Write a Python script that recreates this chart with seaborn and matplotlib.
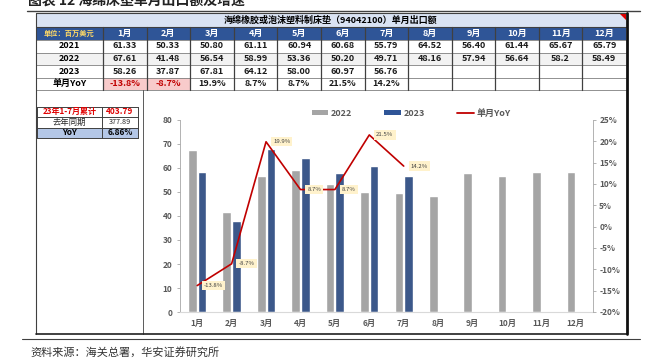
import matplotlib
matplotlib.use("Agg")
import matplotlib.pyplot as plt
import numpy as np
import pandas as pd
import seaborn as sns
from matplotlib.patches import Rectangle, Patch, Polygon
from matplotlib.lines import Line2D

# datos
meses = ['1月', '2月', '3月', '4月', '5月', '6月', '7月', '8月', '9月', '10月', '11月', '12月']
txt_2021 = ['61.33', '50.33', '50.80', '61.11', '60.94', '60.68', '55.79', '64.52', '56.40', '61.44', '65.67', '65.79']
txt_2022 = ['67.61', '41.48', '56.54', '58.99', '53.36', '50.20', '49.71', '48.16', '57.94', '56.64', '58.2', '58.49']
txt_2023 = ['58.26', '37.87', '67.81', '64.12', '58.00', '60.97', '56.76']
yoy = [-13.8, -8.7, 19.9, 8.7, 8.7, 21.5, 14.2]
anios = ['2022', '2023']

titulo_tabla = '海绵橡胶或泡沫塑料制床垫（94042100）单月出口额'
unidad = '单位：百万美元'
acum_etiquetas = ['23年1-7月累计', '去年同期', 'YoY']
acum_valores = ['403.79', '377.89', '6.86%']
titulo = '图表 12 海绵床垫单月出口额及增速'
fuente = '资料来源：海关总署，华安证券研究所'

GRIS = '#A5A5A5'
AZUL = '#2F5597'
ROJO = '#C00000'
TXT = '#595959'

sns.set_style('white')
plt.rcParams['font.family'] = ['Noto Sans CJK SC', 'DejaVu Sans']

W, H = 648, 364
fig = plt.figure(figsize=(W / 100, H / 100), dpi=100)

# capa de fondo en pixeles para tablas y marcos
bg = fig.add_axes([0, 0, 1, 1])
bg.set_xlim(0, W)
bg.set_ylim(H, 0)
bg.axis('off')


def celda(x0, y0, x1, y1, fc='white', ec='none', lw=0):
    bg.add_patch(Rectangle((x0, y0), x1 - x0, y1 - y0, fc=fc, ec=ec, lw=lw))


def texto(x, y, s, size=6.5, color='black', weight='bold', ha='center'):
    bg.text(x, y, s, fontsize=size, color=color, fontweight=weight, ha=ha, va='center')


# titulo cortado arriba (como en la imagen original)
bg.text(28, 8, titulo, fontsize=10, fontweight='bold', ha='left', va='bottom', color='#222222')
bg.plot([27, 640], [11, 11], color='#404040', lw=1)

# tabla superior
x_lab0, x_lab1 = 36, 103
col_w = (626 - 103) / 12
filas_y = [13, 26.5, 39.5, 52.5, 65, 77.5, 90]

celda(36, filas_y[0], 626, filas_y[1], fc='#DAE3F3')
texto(331, (filas_y[0] + filas_y[1]) / 2, titulo_tabla, size=6.5)
bg.add_patch(Polygon([[619, 13], [626, 13], [626, 20]], closed=True, fc='#E00000', ec='none'))

celda(36, filas_y[1], 626, filas_y[2], fc=AZUL)
celda(36, filas_y[3], 626, filas_y[4], fc='#F2F2F2')
texto((x_lab0 + x_lab1) / 2, (filas_y[1] + filas_y[2]) / 2, unidad, size=5.2, color='#FFD966')

filas = [('2021', txt_2021), ('2022', txt_2022), ('2023', txt_2023)]
yoy_txt = [f'{v}%' for v in yoy]
for i, m in enumerate(meses):
    cx = 103 + col_w * (i + 0.5)
    texto(cx, (filas_y[1] + filas_y[2]) / 2, m, color='white')
    for j, (nombre, vals) in enumerate(filas):
        yc = (filas_y[2 + j] + filas_y[3 + j]) / 2
        if i < len(vals):
            texto(cx, yc, vals[i], color='#1a1a1a')
    if i < len(yoy):
        if yoy[i] < 0:
            celda(103 + col_w * i, filas_y[5], 103 + col_w * (i + 1), filas_y[6], fc='#F8CBCB')
            color = ROJO
        else:
            color = '#1a1a1a'
        texto(cx, (filas_y[5] + filas_y[6]) / 2, yoy_txt[i], color=color)

for j, (nombre, vals) in enumerate(filas):
    texto((x_lab0 + x_lab1) / 2, (filas_y[2 + j] + filas_y[3 + j]) / 2, nombre)
texto((x_lab0 + x_lab1) / 2, (filas_y[5] + filas_y[6]) / 2, '单月YoY')

# lineas de la tabla
for y in filas_y[2:]:
    bg.plot([36, 626], [y, y], color='#7F7F7F', lw=0.6)
bg.plot([36, 626], [filas_y[0], filas_y[0]], color='#404040', lw=0.8)
bg.plot([36, 626], [filas_y[1], filas_y[1]], color='#404040', lw=0.8)
for k in range(12):
    x = 103 + col_w * k
    bg.plot([x, x], [filas_y[1], filas_y[6]], color='#404040', lw=0.9)

# tabla acumulada a la izquierda
acum_y = [106.5, 117, 127.5, 138]
celda(37, acum_y[2], 138, acum_y[3], fc='#B4C7E7')
colores_acum = [('#E00000', 'bold', 5.8, 'bold', 6),
                ('#262626', 'normal', 6, 'normal', 5.2),
                ('black', 'bold', 6, 'bold', 6)]
for k in range(3):
    yc = (acum_y[k] + acum_y[k + 1]) / 2
    col, w1, s1, w2, s2 = colores_acum[k]
    texto(69.5, yc, acum_etiquetas[k], size=s1, color=col, weight=w1)
    texto(120, yc, acum_valores[k], size=s2, color=col, weight=w2)
for y in acum_y:
    bg.plot([37, 138], [y, y], color='#404040', lw=0.7)
for x in [37, 102, 138]:
    bg.plot([x, x], [acum_y[0], acum_y[3]], color='#404040', lw=0.7)

# marcos
bg.plot([36, 36], [13, 334], color='#404040', lw=0.8)
bg.plot([143, 143], [90, 334], color='#404040', lw=0.6)
bg.plot([36, 627], [334, 334], color='#202020', lw=1.2)
bg.plot([626.5, 626.5], [13, 334], color='#101010', lw=2)
bg.plot([22, 640], [338.5, 338.5], color='#404040', lw=0.8)

texto(30, 352, fuente, size=8, color='#333333', weight='normal', ha='left')

# grafico principal
ax = fig.add_axes([180 / W, 1 - 312 / H, (593 - 180) / W, (312 - 120) / H])
ax.set_facecolor('none')

df = pd.DataFrame({
    'mes': meses * 2,
    'anio': ['2022'] * 12 + ['2023'] * 12,
    'valor': [float(v) for v in txt_2022] + [float(v) for v in txt_2023] + [np.nan] * 5,
}).dropna()

sns.barplot(data=df, x='mes', y='valor', hue='anio', order=meses, hue_order=anios,
            palette={'2022': GRIS, '2023': AZUL}, width=0.56, gap=0.1,
            errorbar=None, ax=ax, legend=False)
ax.set_xlim(-0.5, 11.5)
ax.set_ylim(0, 80)
ax.set_yticks(range(0, 81, 10))
ax.set_yticklabels([str(v) for v in range(0, 81, 10)], fontweight='bold')
ax.set_xticks(range(12))
ax.set_xticklabels(meses, fontweight='bold')
ax.set_xlabel('')
ax.set_ylabel('')
ax.tick_params(axis='y', length=2.5, width=0.6, color='#A6A6A6', labelsize=6, labelcolor=TXT, pad=3)
ax.tick_params(axis='x', length=0, labelsize=6, labelcolor=TXT, pad=5)
for s in ['top', 'right']:
    ax.spines[s].set_visible(False)
ax.spines['left'].set_color('#A6A6A6')
ax.spines['left'].set_linewidth(0.6)
ax.spines['bottom'].set_color('#D9D9D9')
ax.spines['bottom'].set_linewidth(0.8)

ax2 = ax.twinx()
sns.lineplot(x=np.arange(len(yoy)), y=yoy, ax=ax2, color=ROJO, lw=1.2)
ax2.set_ylim(-20, 25)
ax2.set_yticks(range(-20, 26, 5))
ax2.set_yticklabels([f'{v}%' for v in range(-20, 26, 5)], fontweight='bold')
ax2.tick_params(axis='y', length=2.5, width=0.6, color='#A6A6A6', labelsize=6, labelcolor=TXT, pad=2)
ax2.set_xlabel('')
ax2.set_ylabel('')
for s in ['top', 'left', 'bottom']:
    ax2.spines[s].set_visible(False)
ax2.spines['right'].set_color('#A6A6A6')
ax2.spines['right'].set_linewidth(0.6)

for i, v in enumerate(yoy):
    ax2.annotate(yoy_txt[i], (i, v), xytext=(5, 0), textcoords='offset points',
                 ha='left', va='center', fontsize=4.3, color='#404040',
                 bbox=dict(boxstyle='square,pad=0.35', fc='#FFF2CC', ec='none'))

handles = [Patch(fc=GRIS, ec='none'), Patch(fc=AZUL, ec='none'), Line2D([], [], color=ROJO, lw=1.3)]
fig.legend(handles, ['2022', '2023', '单月YoY'], loc='center', bbox_to_anchor=(411 / W, 1 - 113 / H),
           ncol=3, frameon=False, labelcolor=TXT, handlelength=1.8, handleheight=0.45,
           handletextpad=0.3, columnspacing=3.6, prop={'weight': 'bold', 'size': 6.5})

fig.savefig('out.png', dpi=100)
